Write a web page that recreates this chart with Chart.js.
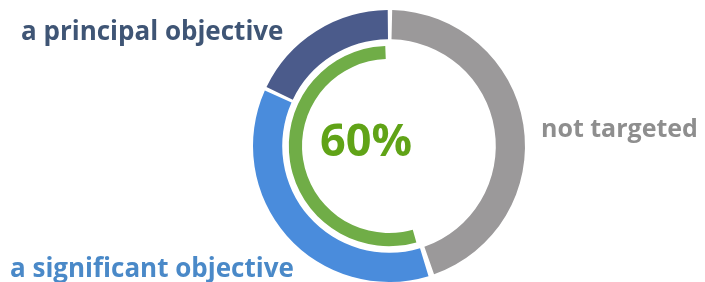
<!DOCTYPE html>
<html><head><meta charset="utf-8">
<script src="https://cdn.jsdelivr.net/npm/chart.js@4/dist/chart.umd.min.js"></script>
<style>html,body{margin:0;padding:0;overflow:hidden;background:#fff}#wrap{width:705px;height:286px;position:relative}</style>
</head><body><div id="wrap"><canvas id="c" width="705" height="286"></canvas></div>
<script>
const categories = ['not targeted', 'a significant objective', 'a principal objective'];
const shares = [45, 37, 18];
const targetedShare = [45, 55];
const centerLabel = '60%';
const segColors = ['#9b999a', '#4a8cdc', '#4b5b8b'];
const labelColors = ['#8e8e8e', '#4a89c8', '#3f5575'];

const labelPlugin = {
  id: 'labels',
  afterDraw(chart) {
    const ctx = chart.ctx;
    const meta = chart.getDatasetMeta(0);
    const a = meta.data[0];
    const cx = a.x, cy = a.y;
    ctx.save();
    ctx.textBaseline = 'alphabetic';
    ctx.textAlign = 'left';
    const sizes = [25, 26, 26];
    const pos = [[cx + 152, cy - 9], [cx - 379, cy + 131], [cx - 368, cy - 106]];
    categories.forEach((t, i) => {
      ctx.font = 'bold ' + sizes[i] + 'px "Open Sans"';
      ctx.fillStyle = labelColors[i];
      ctx.fillText(t, pos[i][0], pos[i][1]);
    });
    ctx.font = 'bold 45px "Open Sans"';
    ctx.fillStyle = '#60a317';
    ctx.textAlign = 'center';
    ctx.fillText(centerLabel, cx - 23, cy + 10);
    ctx.restore();
  }
};

new Chart(document.getElementById('c'), {
  type: 'doughnut',
  data: {
    labels: categories,
    datasets: [
      { data: shares, backgroundColor: segColors, borderWidth: 0, weight: 31, spacing: 4 },
      { data: [1], backgroundColor: ['rgba(0,0,0,0)'], borderWidth: 0, weight: 7 },
      { data: targetedShare, backgroundColor: ['rgba(0,0,0,0)', '#70ad47'], borderWidth: 0, weight: 14, spacing: 4 }
    ]
  },
  options: {
    responsive: false,
    animation: false,
    cutout: 85,
    spacing: 4,
    layout: { padding: { left: 253, right: 180, top: 10, bottom: 4 } },
    plugins: { legend: { display: false }, tooltip: { enabled: false } }
  },
  plugins: [labelPlugin]
});
</script></body></html>
